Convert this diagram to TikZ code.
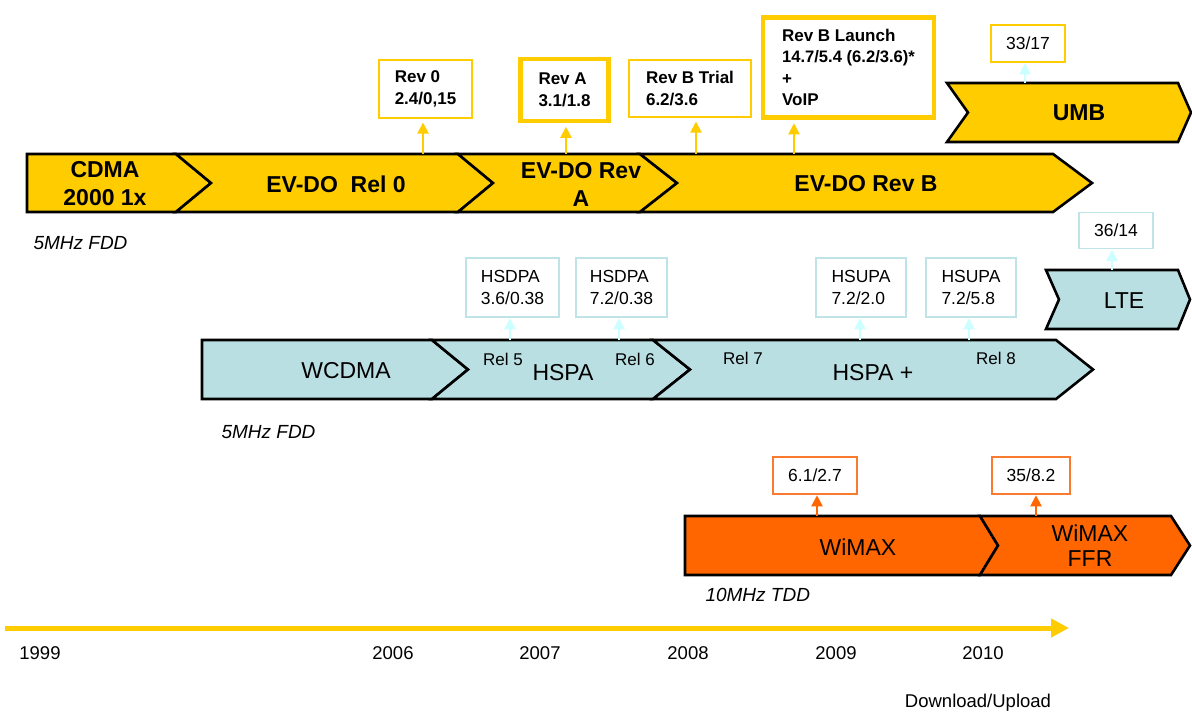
\documentclass[tikz,border=0pt]{standalone}
\usepackage{fontspec}
\setmainfont{Liberation Sans}
\usetikzlibrary{arrows.meta}
\definecolor{ylw}{HTML}{FFCC00}
\definecolor{tealfill}{HTML}{B9DFE3}
\definecolor{org}{HTML}{FF6600}
\definecolor{orgline}{HTML}{FA7A30}
\definecolor{cyanarr}{HTML}{CCFFFF}
\definecolor{tealbox}{HTML}{BEE4E8}
\newcommand\seg[7]{\draw[bar,fill=#1] (#2,#4) -- (#3,#4) -- ({#3+#7},{(#4+#5)/2}) -- (#3,#5) -- (#2,#5) -- ({#2+#6},{(#4+#5)/2}) -- cycle;}
\begin{document}
\begin{tikzpicture}[x=1pt,y=-1pt,
  bar/.style={draw=black,line width=2.6pt,line join=miter},
  bigb/.style={font=\fontsize{23}{28}\selectfont\bfseries,align=center},
  bign/.style={font=\fontsize{23}{26}\selectfont,align=center},
  relt/.style={font=\fontsize{17}{20}\selectfont},
  ybox/.style={draw=ylw,line width=2pt,fill=white,font=\fontsize{17}{21.5}\selectfont\bfseries,align=left,inner sep=0pt},
  ybthick/.style={ybox,line width=4.5pt},
  ysmall/.style={draw=ylw,line width=1.5pt,fill=white,font=\fontsize{17.5}{21}\selectfont,inner sep=0pt},
  tbox/.style={draw=tealbox,line width=1.5pt,fill=white,font=\fontsize{17.5}{21.5}\selectfont,align=left,inner sep=0pt},
  obox/.style={draw=orgline,line width=1.5pt,fill=white,font=\fontsize{17.5}{21}\selectfont,inner sep=0pt},
  yarr/.style={draw=ylw,line width=2pt,-{Triangle[width=11pt,length=11pt]},shorten >=3.5pt},
  carr/.style={draw=cyanarr,line width=2pt,-{Triangle[width=11pt,length=11pt]},shorten >=0.5pt},
  oarr/.style={draw=org,line width=2pt,-{Triangle[width=11pt,length=11pt]},shorten >=0.5pt},
  tline/.style={draw=ylw,line width=5pt,-{Triangle[width=18pt,length=18pt]}},
  note/.style={font=\fontsize{19}{22}\selectfont\itshape,anchor=west},
  year/.style={font=\fontsize{18.5}{22}\selectfont}
]
\useasboundingbox (0,0) rectangle (1192,713);

% ---- yellow row ----
\seg{ylw}{27}{176}{154}{212}{0}{35}
\seg{ylw}{176}{458}{154}{212}{35}{35}
\seg{ylw}{458}{640}{154}{212}{35}{37}
\seg{ylw}{640}{1053}{154}{212}{37}{39}
\seg{ylw}{947}{1178}{83}{142}{21}{13}
\node[bigb] (cdma) at (105,184) {CDMA\\2000 1x};
\node[bigb] (evdo0) at (336,184) {EV-DO\ \ Rel 0};
\node[bigb] (evdoA) at (581,184) {EV-DO Rev\\A};
\node[bigb] (evdoB) at (866,184) {EV-DO Rev B};
\node[bigb] (umb) at (1079,113) {UMB};

\node[ybox,minimum width=93pt,minimum height=58pt] (rev0) at (425.5,89) {Rev 0\\2.4/0,15};
\node[ybthick,minimum width=88pt,minimum height=62pt] (revA) at (564.5,90) {Rev A\\3.1/1.8};
\node[ybox,minimum width=122pt,minimum height=57pt] (revBt) at (690,88.5) {Rev B Trial\\6.2/3.6};
\node[ybthick,minimum width=171pt,minimum height=100pt] (revBl) at (848.5,67.5) {Rev B Launch\\{\fontsize{16.6}{21.5}\selectfont 14.7/5.4 (6.2/3.6)*}\\+\\VoIP};
\node[ysmall,minimum width=74pt,minimum height=37pt] (umbr) at (1028,43.5) {33/17};

\coordinate (a1) at (423,154);
\coordinate (a2) at (566,154);
\coordinate (a3) at (696,154);
\coordinate (a4) at (794,154);
\coordinate (a5) at (1025,83);
\draw[yarr] (a1) -- (a1 |- rev0.south);
\draw[yarr] (a2) -- (a2 |- revA.south);
\draw[yarr] (a3) -- (a3 |- revBt.south);
\draw[yarr] (a4) -- (a4 |- revBl.south);
\draw[carr] (a5) -- (a5 |- umbr.south);

\node[note] (fdd1) at (30,243) {5MHz FDD};

% ---- teal row ----
\seg{tealfill}{202}{432}{340}{399}{0}{36}
\seg{tealfill}{432}{653}{340}{399}{36}{37}
\seg{tealfill}{653}{1056}{340}{399}{37}{37}
\seg{tealfill}{1046}{1178}{270}{329}{13}{12}
\node[bign] (wcdma) at (346,371) {WCDMA};
\node[bign] (hspa) at (563,373) {HSPA};
\node[relt] (rel5) at (503,359) {Rel 5};
\node[relt] (rel6) at (635,359) {Rel 6};
\node[bign] (hspap) at (873,373) {HSPA +};
\node[relt] (rel7) at (743,358) {Rel 7};
\node[relt] (rel8) at (996,358) {Rel 8};
\node[bign] (lte) at (1124,301) {LTE};

\node[tbox,minimum width=93pt,minimum height=59pt] (hsd1) at (512.5,287.5) {HSDPA\\3.6/0.38};
\node[tbox,minimum width=91pt,minimum height=59pt] (hsd2) at (621.5,287.5) {HSDPA\\7.2/0.38};
\node[tbox,minimum width=90pt,minimum height=59pt] (hsu1) at (861,287.5) {HSUPA\\7.2/2.0};
\node[tbox,minimum width=90pt,minimum height=59pt] (hsu2) at (971,287.5) {HSUPA\\7.2/5.8};
\node[tbox,minimum width=74pt,minimum height=36pt] (lter) at (1116,230.5) {36/14};

\coordinate (b1) at (510,340);
\coordinate (b2) at (619,340);
\coordinate (b3) at (860,340);
\coordinate (b4) at (969,340);
\coordinate (b5) at (1112,270);
\draw[carr] (b1) -- (b1 |- hsd1.south);
\draw[carr] (b2) -- (b2 |- hsd2.south);
\draw[carr] (b3) -- (b3 |- hsu1.south);
\draw[carr] (b4) -- (b4 |- hsu2.south);
\draw[carr] (b5) -- (b5 |- lter.south);

\node[note] (fdd2) at (218,432) {5MHz FDD};

% ---- orange row ----
\seg{org}{685}{980}{516}{575}{0}{18}
\seg{org}{980}{1171}{516}{575}{18}{19}
\node[bign] (wimax) at (858,547) {WiMAX};
\node[bign,font=\fontsize{23}{25}\selectfont] (ffr) at (1090,546) {WiMAX\\FFR};
\node[obox,minimum width=84pt,minimum height=37pt] (wr1) at (815,475.5) {6.1/2.7};
\node[obox,minimum width=78pt,minimum height=37pt] (wr2) at (1031,475.5) {35/8.2};
\coordinate (c1) at (817,516);
\coordinate (c2) at (1036,516);
\draw[oarr] (c1) -- (c1 |- wr1.south);
\draw[oarr] (c2) -- (c2 |- wr2.south);

\node[note] (tdd) at (702,595) {10MHz TDD};

% ---- timeline ----
\coordinate (t0) at (5,628);
\coordinate (t1) at (1069,628);
\draw[tline] (t0) -- (t1);
\node[year] (y99) at (40,653) {1999};
\node[year] (y06) at (393,653) {2006};
\node[year] (y07) at (540,653) {2007};
\node[year] (y08) at (688,653) {2008};
\node[year] (y09) at (836,653) {2009};
\node[year] (y10) at (983,653) {2010};
\node[year] (dl) at (978,703) {Download/Upload};
\end{tikzpicture}
\end{document}
